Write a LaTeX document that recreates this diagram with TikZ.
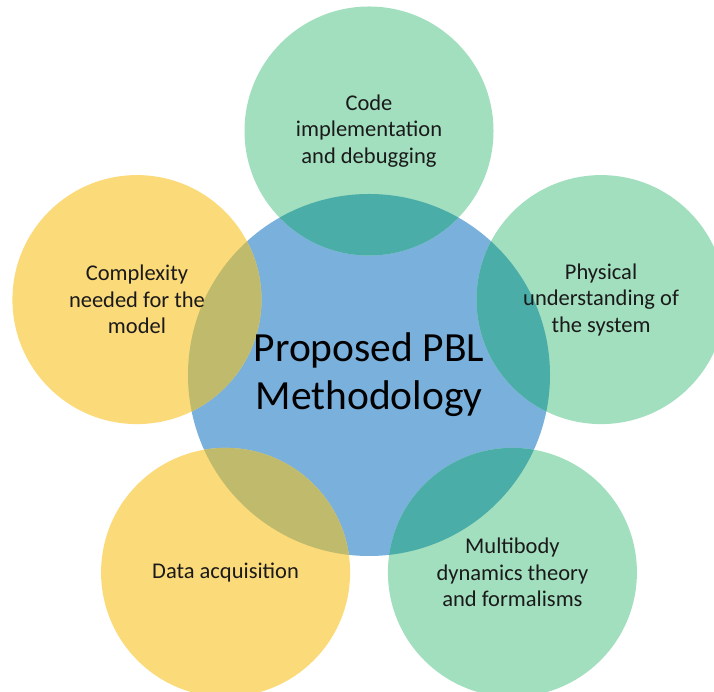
\documentclass[tikz,border=0pt]{standalone}
\usepackage{fontspec}
\usetikzlibrary{calc}
\setmainfont{Carlito}
\definecolor{hubblue}{RGB}{122,176,220}
\definecolor{leafgreen}{RGB}{162,223,191}
\definecolor{leafyellow}{RGB}{251,218,122}
\definecolor{mixteal}{RGB}{75,173,168}
\definecolor{mixolive}{RGB}{191,186,108}
\definecolor{inktext}{RGB}{26,26,26}
\tikzset{
  hub/.style={circle, minimum size=362pt, inner sep=0pt, fill=hubblue},
  leaf/.style={circle, minimum size=249pt, inner sep=0pt},
  leaftext/.style={align=center, text=inktext, font=\fontsize{22.5}{26.5}\selectfont},
  hubtext/.style={align=center, text=black, font=\fontsize{41.5}{48}\selectfont},
}
\begin{document}
\begin{tikzpicture}[x=1pt,y=1pt]
\useasboundingbox (0,0) rectangle (714,692);
\begin{scope}
\clip (0,0) rectangle (714,692);
% central circle
\node[hub] (hub) at (369,317) {};
% five surrounding circles on a pentagon
\node[leaf, fill=leafgreen]  (code)   at ($(hub.center)+(90:244)$)   {};
\node[leaf, fill=leafgreen]  (phys)   at ($(hub.center)+(18:244)$)   {};
\node[leaf, fill=leafgreen]  (multi)  at ($(hub.center)+(-54:244)$)  {};
\node[leaf, fill=leafyellow] (data)   at ($(hub.center)+(-126:244)$) {};
\node[leaf, fill=leafyellow] (cplx)   at ($(hub.center)+(162:244)$)  {};
% lens-shaped overlaps with the central circle
\foreach \n/\c in {code/mixteal, phys/mixteal, multi/mixteal, data/mixolive, cplx/mixolive}{
  \begin{scope}
    \clip (\n.center) circle (124.5);
    \fill[\c] (hub.center) circle (181);
  \end{scope}
}
\end{scope}
% labels
\node[hubtext]  (hubT)   at (hub.center)   {Proposed PBL\\Methodology};
\node[leaftext] (codeT)  at (code.center)  {Code\\implementation\\and debugging};
\node[leaftext] (physT)  at (phys.center)  {Physical\\understanding of\\the system};
\node[leaftext] (multiT) at (multi.center) {Multibody\\dynamics theory\\and formalisms};
\node[leaftext] (dataT)  at (data.center)  {Data acquisition};
\node[leaftext] (cplxT)  at (cplx.center)  {Complexity\\needed for the\\model};
\end{tikzpicture}
\end{document}
